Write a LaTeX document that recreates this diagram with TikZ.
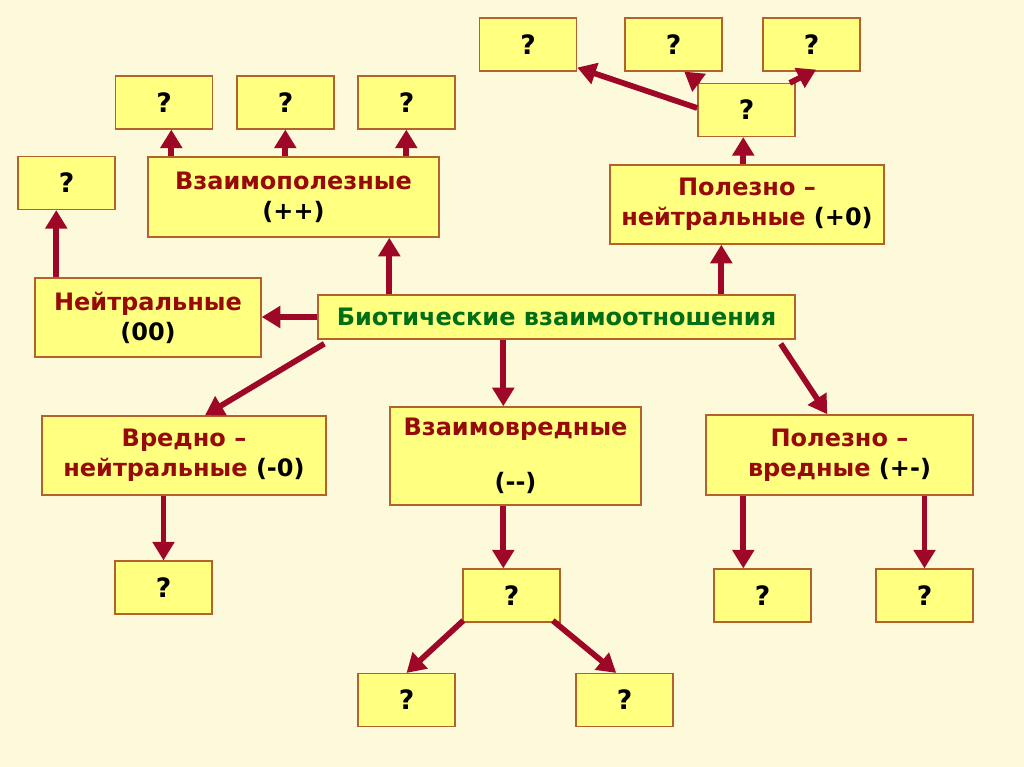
\documentclass[tikz,border=0pt]{standalone}
\usepackage{fontspec}
\setmainfont{DejaVu Sans}
\usetikzlibrary{arrows.meta,calc}
\definecolor{bgc}{RGB}{252,250,218}
\definecolor{boxfill}{RGB}{255,255,128}
\definecolor{boxline}{RGB}{178,98,42}
\definecolor{arrred}{RGB}{158,8,38}
\definecolor{txtred}{RGB}{150,10,10}
\definecolor{txtgreen}{RGB}{0,110,20}
\tikzset{
  box/.style={draw=boxline, fill=boxfill, line width=1.1pt, inner sep=0pt, align=center,
    font=\fontsize{18}{22.5}\selectfont\bfseries, text=txtred},
  qbox/.style={box, minimum width=72.8pt, minimum height=39.5pt, text=black,
    font=\fontsize{20}{24}\selectfont\bfseries},
  arr/.style={draw=arrred, line width=4.3pt, -{Triangle[length=14pt,width=16pt]}},
}
\newcommand{\blk}[1]{\textcolor{black}{#1}}
\begin{document}
\begin{tikzpicture}[x=0.75pt,y=-0.75pt]
\fill[bgc] (0,0) rectangle (1024,767);
\useasboundingbox (0,0) rectangle (1024,767);
% nodes
\node[qbox] (q1) at (528,44.5) {?};
\node[qbox] (q2) at (673.5,44.5) {?};
\node[qbox] (q3) at (811.5,44.5) {?};
\node[qbox] (q4) at (746.5,110) {?};
\node[box, minimum width=205.5pt, minimum height=59.2pt] (pn) at (747,204.5) {Полезно –\\нейтральные \blk{(+0)}};
\node[qbox] (qa) at (164,102.5) {?};
\node[qbox] (qb) at (285.5,102.5) {?};
\node[qbox] (qc) at (406.5,102.5) {?};
\node[box, minimum width=218.2pt, minimum height=60pt] (vp) at (293.5,197) {Взаимополезные\\\blk{(++)}};
\node[qbox] (ql) at (66.5,183) {?};
\node[box, minimum width=169.5pt, minimum height=59.2pt] (ne) at (148,317.5) {Нейтральные\\\blk{(00)}};
\node[box, minimum width=357.7pt, minimum height=33pt, text=txtgreen] (bio) at (556.5,317) {Биотические взаимоотношения};
\node[box, minimum width=213pt, minimum height=59.2pt] (vn) at (184,455.5) {Вредно –\\нейтральные \blk{(-0)}};
\node[box, minimum width=188.2pt, minimum height=73.5pt] (vv) at (515.5,456) {Взаимовредные\\[19pt]\blk{(-{}-)}};
\node[box, minimum width=200.2pt, minimum height=60pt] (pv) at (839.5,455) {Полезно –\\вредные \blk{(+-)}};
\node[qbox] (qvn) at (163.5,587.5) {?};
\node[qbox] (qvv) at (511.5,595.5) {?};
\node[qbox] (qbl) at (406.5,700) {?};
\node[qbox] (qbr) at (624.5,700) {?};
\node[qbox] (qp1) at (762.5,595.5) {?};
\node[qbox] (qp2) at (924.5,595.5) {?};
% helper coordinates
\coordinate (b1) at ($(bio.north west)+(72,0)$);
\coordinate (b2) at ($(bio.north west)+(404,0)$);
\coordinate (n1) at ($(ne.north west)+(22,0)$);
\coordinate (v1) at ($(vp.north west)+(24,0)$);
\coordinate (v2) at ($(vp.north west)+(138,0)$);
\coordinate (v3) at ($(vp.north west)+(259,0)$);
\coordinate (p1) at ($(pn.north west)+(134,0)$);
\coordinate (b3) at ($(bio.south west)+(186,0)$);
\coordinate (w1) at ($(vv.south west)+(114,0)$);
\coordinate (r1) at ($(pv.south west)+(38,0)$);
% connectors
\draw[arr] (bio.west) -- (bio.west -| ne.east);
\draw[arr] (b1) -- (b1 |- vp.south);
\draw[arr] (b2) -- (b2 |- pn.south);
\draw[arr] (n1) -- (n1 |- ql.south);
\draw[arr] (v1) -- (v1 |- qa.south);
\draw[arr] (v2) -- (v2 |- qb.south);
\draw[arr] (v3) -- (v3 |- qc.south);
\draw[arr] (p1) -- (p1 |- q4.south);
\draw[arr] ($(q4.west)+(0,-2)$) -- ($(q1.south east)+(0,-4)$);
\draw[arr] ($(q4.north west)+(2,0)$) -- ($(q2.south west)+(60,0)$);
\draw[arr] ($(q4.north east)+(-6,0)$) -- ($(q3.south west)+(54,-2)$);
\draw[arr] ($(bio.south west)+(7,4)$) -- ($(vn.north)+(21,0)$);
\draw[arr] (b3) -- (b3 |- vv.north);
\draw[arr] ($(bio.south east)+(-15,4)$) -- ($(pv.north west)+(122,0)$);
\draw[arr] (qvn.north |- vn.south) -- (qvn.north);
\draw[arr] (w1) -- (w1 |- qvv.north);
\draw[arr] ($(qvv.south west)+(1,-2)$) -- (qbl.north);
\draw[arr] ($(qvv.south east)+(-8,-2)$) -- ($(qbr.north west)+(41,0)$);
\draw[arr] (r1) -- (r1 |- qp1.north);
\draw[arr] (qp2.north |- pv.south) -- (qp2.north);
\end{tikzpicture}
\end{document}
